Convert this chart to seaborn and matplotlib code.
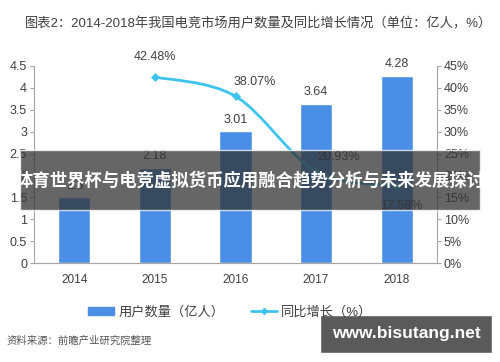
import pandas as pd
import matplotlib.pyplot as plt
import seaborn as sns
from matplotlib.path import Path
from matplotlib.patches import PathPatch, Patch, Rectangle
from matplotlib.lines import Line2D
from matplotlib.ticker import FuncFormatter

# data
years = ["2014", "2015", "2016", "2017", "2018"]
users = [1.50, 2.18, 3.01, 3.64, 4.28]          # 亿人
growth_years = ["2015", "2016", "2017", "2018"]
growth = [42.48, 38.07, 20.93, 17.58]            # %

title = "图表2：2014-2018年我国电竞市场用户数量及同比增长情况（单位：亿人，%）"
bar_name = "用户数量（亿人）"
line_name = "同比增长（%）"
source = "资料来源：前瞻产业研究院整理"
banner = "体育世界杯与电竞虚拟货币应用融合趋势分析与未来发展探讨"
site = "www.bisutang.net"

bar_color = "#4a8ee6"
line_color = "#3ec3ee"
text_color = "#404040"

df = pd.DataFrame({"year": years, "users": users})

sns.set_style("white")
plt.rcParams["font.family"] = ["Liberation Sans", "Noto Sans CJK SC", "DejaVu Sans"]

fig = plt.figure(figsize=(5, 3.62), dpi=100)
ax = fig.add_axes([0.068, 0.273, 0.806, 0.545])

sns.barplot(data=df, x="year", y="users", color=bar_color, width=0.4,
            saturation=1, ax=ax)
ax.set_ylim(0, 4.5)
ax.set_yticks([0, 0.5, 1, 1.5, 2, 2.5, 3, 3.5, 4, 4.5])
ax.yaxis.set_major_formatter(FuncFormatter(lambda v, p: f"{v:g}"))
ax.set_xlim(-0.5, 4.5)
ax.set_xlabel("")
ax.set_ylabel("")
for i, v in enumerate(users):
    ax.annotate(f"{v:g}" if i == 0 else f"{v:.2f}", (i, v), xytext=(0, 4),
                textcoords="offset points", ha="center", va="bottom",
                fontsize=9, color=text_color)

# secondary axis with smoothed growth line
ax2 = ax.twinx()
ax2.set_ylim(0, 45)
ax2.set_yticks(range(0, 50, 5))
ax2.yaxis.set_major_formatter(FuncFormatter(lambda v, p: f"{v:.0f}%"))

xs = [years.index(y) for y in growth_years]
pts = list(zip(xs, growth))
verts = [pts[0]]
codes = [Path.MOVETO]
for i in range(len(pts) - 1):
    p0 = pts[i - 1] if i > 0 else pts[i]
    p1 = pts[i]
    p2 = pts[i + 1]
    p3 = pts[i + 2] if i + 2 < len(pts) else pts[i + 1]
    c1 = (p1[0] + (p2[0] - p0[0]) / 6, p1[1] + (p2[1] - p0[1]) / 6)
    c2 = (p2[0] - (p3[0] - p1[0]) / 6, p2[1] - (p3[1] - p1[1]) / 6)
    verts += [c1, c2, p2]
    codes += [Path.CURVE4] * 3
ax2.add_patch(PathPatch(Path(verts, codes), fill=False, edgecolor=line_color,
                        linewidth=2))
sns.scatterplot(x=xs, y=growth, marker="D", s=18, color=line_color,
                edgecolor=line_color, ax=ax2, zorder=3)

offsets = [(0, 10), (14, 6), (16, 6), (3, -10)]
for x, g, (dx, dy) in zip(xs, growth, offsets):
    ax2.annotate(f"{g:.2f}%", (x, g), xytext=(dx, dy), textcoords="offset points",
                 ha="center", va="bottom" if dy > 0 else "top",
                 fontsize=9, color=text_color)

for a in (ax, ax2):
    for s in a.spines.values():
        s.set_color("#a6a6a6")
        s.set_linewidth(0.8)
    a.spines["top"].set_visible(False)
    a.tick_params(axis="y", labelsize=9, labelcolor=text_color, length=3,
                  color="#a6a6a6", pad=2)
ax.spines["right"].set_visible(False)
ax2.spines["left"].set_visible(False)
ax.tick_params(axis="x", labelsize=8.5, labelcolor=text_color, length=0, pad=8)

# legend
handles = [Patch(color=bar_color, label=bar_name),
           Line2D([0], [0], color=line_color, lw=2, marker="D", markersize=3,
                  label=line_name)]
fig.legend(handles=handles, loc="center", bbox_to_anchor=(0.46, 0.138), ncol=2,
           frameon=False, fontsize=9.5, handlelength=2.0, handleheight=0.55,
           handletextpad=0.3, columnspacing=2.0, labelcolor=text_color)

fig.text(0.05, 0.935, title, fontsize=9.5, color=text_color, va="center")
fig.text(0.014, 0.058, source, fontsize=7.5, color="#555555", style="italic",
         va="center")

# overlays
fig.patches.append(Rectangle((0.04, 0.42), 0.92, 0.165, transform=fig.transFigure,
                             facecolor="#333333", alpha=0.75, zorder=5))
fig.text(0.5, 0.503, banner, fontsize=12.5, color="white", weight="bold",
         ha="center", va="center", zorder=6)
fig.patches.append(Rectangle((0.64, 0.025), 0.344, 0.105, transform=fig.transFigure,
                             facecolor="#5a5a5a", zorder=5))
fig.text(0.812, 0.078, site, fontsize=12.5, color="white", weight="bold",
         ha="center", va="center", zorder=6)

fig.savefig("out.png", dpi=100)
